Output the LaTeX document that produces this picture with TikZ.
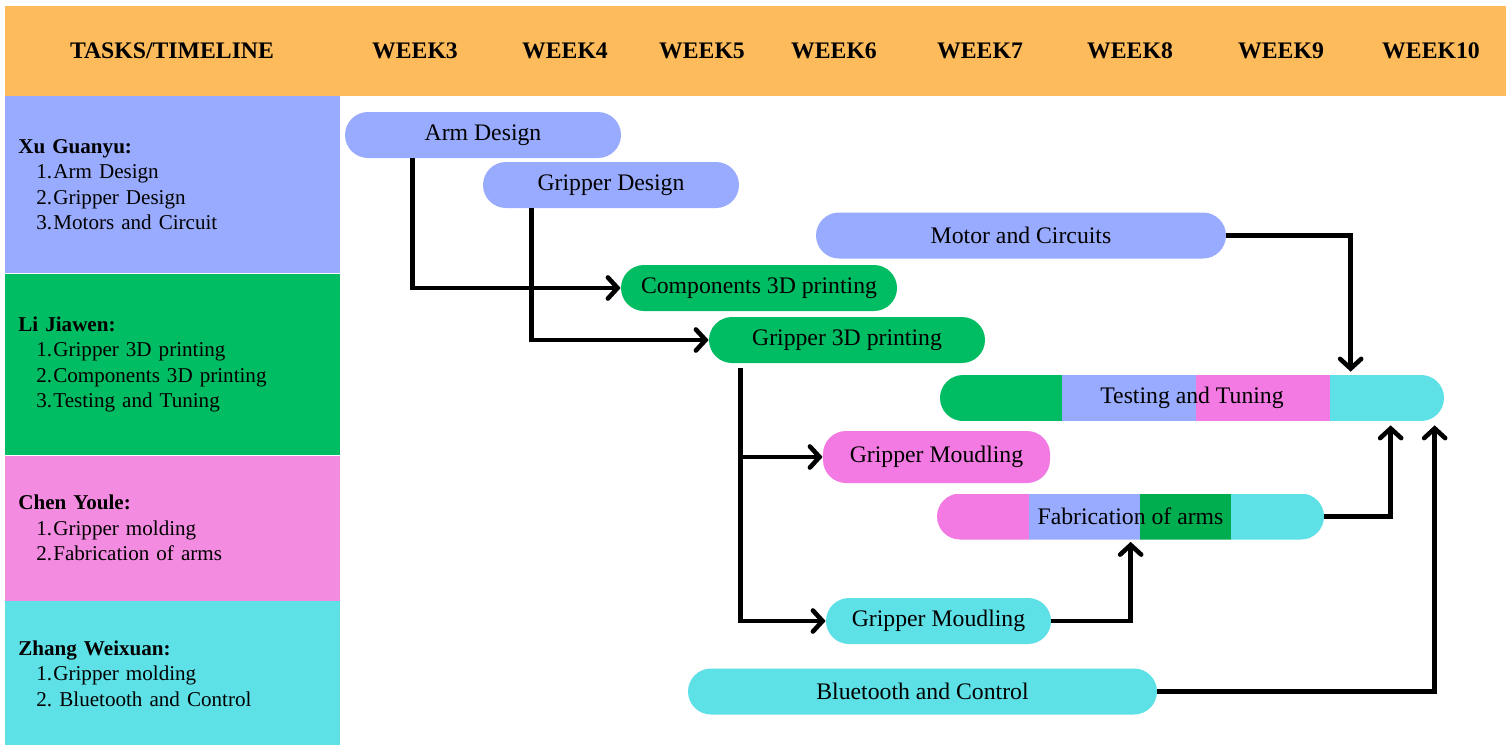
\documentclass[tikz,border=0pt]{standalone}
\usepackage{fontspec}
\setmainfont{Liberation Serif}
\usetikzlibrary{arrows.meta}

\definecolor{hdrorange}{HTML}{FDBB5B}
\definecolor{lnblue}{HTML}{99ABFE}
\definecolor{lngreen}{HTML}{00BC62}
\definecolor{lnpink}{HTML}{F38CE0}
\definecolor{lncyan}{HTML}{5DE0E6}
\definecolor{bpink}{HTML}{F27AE2}
\definecolor{bdkgreen}{HTML}{00AE4F}

\newcommand{\tasknum}[1]{\hspace*{0.36cm}\makebox[0.34cm][l]{#1}}

\begin{document}
\begin{tikzpicture}[
    bar/.style = {rectangle, rounded corners=0.46cm, minimum height=0.92cm, inner sep=0pt,
                  font=\fontsize{13.5}{16}\selectfont},
    lane/.style = {rectangle, anchor=north west, minimum width=6.7cm, text width=6.18cm,
                   inner xsep=0.26cm, align=left, font=\fontsize{12}{14.5}\selectfont},
    week/.style = {font=\fontsize{13.5}{16}\selectfont\bfseries},
    conn/.style = {line width=2.6pt, -{Straight Barb[length=5.5pt,width=12pt,line cap=round]}},
  ]
  \useasboundingbox (0,0) rectangle (30.14,-15.04);

  % header row
  \fill[hdrorange] (0.1,-0.12) rectangle (30.12,-1.92);
  \node[week] (tasks) at (3.44,-1.02) {TASKS/TIMELINE};
  \foreach \n/\x in {3/8.3, 4/11.3, 5/14.04, 6/16.68, 7/19.6, 8/22.6, 9/25.62, 10/28.62}
    \node[week] (w\n) at (\x,-1.02) {WEEK\n};

  % people
  \node[lane, fill=lnblue, minimum height=3.54cm] (xu) at (0.1,-1.92)
    {\textbf{Xu Guanyu:}\\ \tasknum{1.}Arm Design\\ \tasknum{2.}Gripper Design\\ \tasknum{3.}Motors and Circuit};
  \node[lane, fill=lngreen, minimum height=3.62cm] (li) at (xu.south west)
    {\textbf{Li Jiawen:}\\ \tasknum{1.}Gripper 3D printing\\ \tasknum{2.}Components 3D printing\\ \tasknum{3.}Testing and Tuning};
  \node[lane, fill=lnpink, minimum height=2.9cm] (chen) at (li.south west)
    {\textbf{Chen Youle:}\\ \tasknum{1.}Gripper molding\\ \tasknum{2.}Fabrication of arms};
  \node[lane, fill=lncyan, minimum height=2.88cm] (zhang) at (chen.south west)
    {\textbf{Zhang Weixuan:}\\ \tasknum{1.}Gripper molding\\ \tasknum{2.}\hspace{0.12cm}Bluetooth and Control};

  % tasks
  \node[bar, fill=lnblue, minimum width=5.52cm] (arm) at (9.66,-2.70) {Arm Design};
  \node[bar, fill=lnblue, minimum width=5.12cm] (gdes) at (12.22,-3.70) {Gripper Design};
  \node[bar, fill=lnblue, minimum width=8.2cm] (motor) at (20.42,-4.71) {Motor and Circuits};
  \node[bar, fill=lngreen, minimum width=5.52cm] (comp) at (15.18,-5.76) {Components 3D printing};
  \node[bar, fill=lngreen, minimum width=5.52cm] (g3d) at (16.94,-6.80) {Gripper 3D printing};
  \node[bar, fill=white, minimum width=10.08cm, path picture={
      \coordinate (sw) at (path picture bounding box.south west);
      \coordinate (nw) at (path picture bounding box.north west);
      \fill[sharp corners, lngreen] (sw) rectangle ([xshift=2.44cm]nw);
      \fill[sharp corners, lnblue] ([xshift=2.44cm]sw) rectangle ([xshift=5.12cm]nw);
      \fill[sharp corners, bpink] ([xshift=5.12cm]sw) rectangle ([xshift=7.8cm]nw);
      \fill[sharp corners, lncyan] ([xshift=7.8cm]sw) rectangle (path picture bounding box.north east);
    }] (test) at (23.84,-7.96) {Testing and Tuning};
  \node[bar, fill=bpink, minimum width=4.54cm, minimum height=1.04cm] (mldp) at (18.73,-9.14) {Gripper Moudling};
  \node[bar, fill=white, minimum width=7.74cm, path picture={
      \coordinate (sw) at (path picture bounding box.south west);
      \coordinate (nw) at (path picture bounding box.north west);
      \fill[sharp corners, bpink] (sw) rectangle ([xshift=1.84cm]nw);
      \fill[sharp corners, lnblue] ([xshift=1.84cm]sw) rectangle ([xshift=4.06cm]nw);
      \fill[sharp corners, bdkgreen] ([xshift=4.06cm]sw) rectangle ([xshift=5.88cm]nw);
      \fill[sharp corners, lncyan] ([xshift=5.88cm]sw) rectangle (path picture bounding box.north east);
    }] (fab) at (22.61,-10.33) {Fabrication of arms};
  \node[bar, fill=lncyan, minimum width=4.5cm] (mldc) at (18.77,-12.42) {Gripper Moudling};
  \node[bar, fill=lncyan, minimum width=9.38cm] (bt) at (18.45,-13.83) {Bluetooth and Control};

  % dependencies
  \draw[conn] ([xshift=1.36cm]arm.south west) |- (comp.west);
  \draw[conn] ([xshift=0.98cm]gdes.south west) |- (g3d.west);
  \coordinate (trunk) at ([xshift=0.64cm,yshift=-0.1cm]g3d.south west);
  \draw[conn] (trunk) |- (mldc.west);
  \draw[conn] (trunk |- mldp.west) -- (mldp.west);
  \draw[conn] (motor.east) -| ([xshift=8.22cm,yshift=0.06cm]test.north west);
  \draw[conn] (fab.east) -| ([xshift=9.02cm,yshift=-0.08cm]test.south west);
  \draw[conn] (mldc.east) -| ([xshift=3.88cm,yshift=-0.04cm]fab.south west);
  \draw[conn] (bt.east) -| ([xshift=9.9cm,yshift=-0.08cm]test.south west);
\end{tikzpicture}
\end{document}
